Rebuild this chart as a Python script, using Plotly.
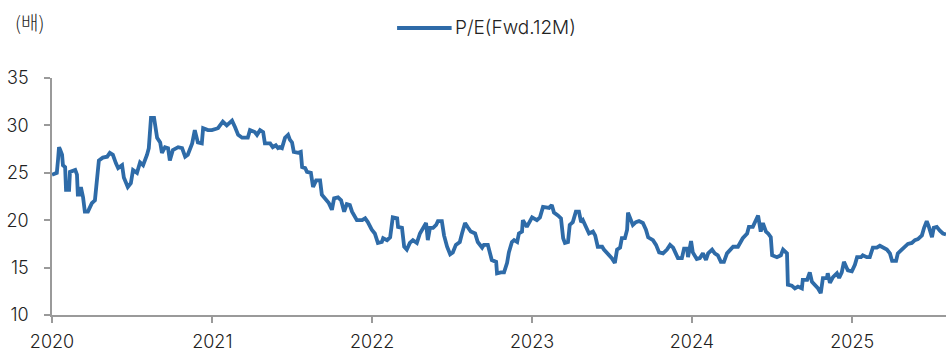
import pandas as pd
import plotly.graph_objects as go

# Forward 12M P/E, days counted from 2020-01-01
day_offset = [
    0, 7, 11, 14, 16, 18, 23, 25, 30, 32, 39, 41, 46, 53, 57, 59, 64, 66, 71, 75,
    82, 91, 98, 103, 107, 116, 126, 132, 139, 146, 151, 160, 164, 173, 180, 185,
    194, 201, 208, 217, 221, 226, 233, 240, 247, 251, 258, 265, 269, 276, 288,
    297, 304, 310, 320, 326, 333, 342, 345, 356, 365,
    379, 390, 399, 411, 418, 425, 434, 447, 452, 463, 468, 475, 482, 486, 498,
    504, 511, 516, 520, 525, 532, 539, 543, 548, 552, 562, 568, 571, 578, 582,
    591, 596, 603, 612, 616, 625, 632, 639, 644, 653, 660, 667, 673, 680, 685,
    696, 708, 715, 721,
    730, 737, 744, 753, 756, 765, 772, 778, 788, 790, 799, 804, 810, 817, 824,
    833, 840, 847, 854, 858, 863, 870, 877, 881, 890, 895, 902, 909, 915, 922,
    931, 936, 943, 950, 956, 966, 972, 982, 986, 995, 1000, 1004, 1014, 1016,
    1025, 1032, 1039, 1043, 1050, 1055, 1062, 1066, 1073, 1075, 1084, 1089, 1096,
    1107, 1114, 1121, 1130, 1135, 1141, 1146, 1155, 1162, 1167, 1171, 1178, 1182,
    1189, 1196, 1203, 1208, 1212, 1219, 1226, 1235, 1240, 1246, 1256, 1260, 1269,
    1278, 1285, 1290, 1297, 1301, 1308, 1313, 1315, 1322, 1326, 1333, 1340, 1349,
    1356, 1361, 1372, 1379, 1386, 1395, 1404, 1411, 1418, 1424, 1429, 1438, 1443,
    1450, 1452, 1459, 1463, 1472, 1479,
    1486, 1493, 1498, 1507, 1513, 1520, 1527, 1534, 1541, 1548, 1555, 1566, 1571,
    1577, 1587, 1591, 1600, 1605, 1612, 1618, 1623, 1630, 1635, 1641, 1644, 1655,
    1664, 1669, 1678, 1680, 1689, 1696, 1703, 1712, 1714, 1724, 1730, 1735, 1742,
    1749, 1755, 1760, 1769, 1771, 1776, 1783, 1792, 1797, 1803, 1808, 1817, 1826,
    1833, 1838, 1847, 1851, 1860, 1867, 1874, 1883, 1890, 1897, 1906, 1913, 1918,
    1927, 1931, 1940, 1947, 1954, 1963, 1970, 1977, 1986, 1991, 1997, 2002, 2009,
    2013, 2020, 2027, 2034, 2041,
]

pe_fwd12m = [
    24.8, 24.9, 25.0, 26.5, 27.7, 27.5, 26.9, 25.8, 25.6, 23.2, 23.2, 25.1, 25.2,
    25.3, 24.8, 22.7, 22.7, 23.5, 22.4, 20.9, 20.9, 21.8, 22.1, 24.8, 26.3, 26.6,
    26.7, 27.1, 26.9, 26.0, 25.5, 25.8, 24.5, 23.5, 23.9, 25.3, 25.0, 26.1, 25.8,
    26.9, 27.6, 30.8, 30.8, 28.7, 28.2, 27.1, 27.7, 27.6, 26.3, 27.4, 27.7, 27.6,
    26.7, 26.9, 28.1, 29.5, 28.2, 28.1, 29.7, 29.5, 29.5,
    29.7, 30.4, 30.0, 30.5, 29.8, 29.0, 28.7, 28.7, 29.5, 29.3, 29.0, 29.5, 29.3,
    28.1, 28.1, 27.7, 27.9, 27.6, 27.7, 27.6, 28.7, 29.0, 28.5, 28.2, 27.2, 27.1,
    27.2, 25.6, 25.5, 25.1, 25.0, 23.5, 24.2, 24.2, 22.7, 22.1, 21.8, 21.1, 22.3,
    22.4, 22.1, 20.9, 21.7, 21.6, 20.9, 20.0, 20.0, 20.2, 19.8,
    19.0, 18.6, 17.6, 17.7, 18.1, 17.9, 18.2, 20.3, 20.2, 19.3, 19.2, 17.2, 16.9,
    17.6, 17.9, 17.6, 18.6, 19.2, 19.7, 17.9, 19.2, 19.2, 19.5, 19.9, 19.9, 18.4,
    17.2, 16.4, 16.6, 17.4, 17.7, 18.6, 19.7, 19.2, 18.8, 18.6, 17.7, 17.1, 17.4,
    17.4, 16.3, 15.8, 15.6, 14.4, 14.5, 14.5, 15.5, 16.6, 17.7, 17.9, 17.7, 18.6,
    18.8, 20.0, 19.3, 19.7, 20.3,
    20.0, 20.3, 21.4, 21.4, 21.3, 21.6, 20.8, 20.5, 20.2, 18.1, 17.6, 17.7, 19.5,
    19.8, 20.9, 20.9, 19.8, 20.0, 19.2, 18.6, 18.8, 18.4, 17.2, 17.2, 16.9, 16.5,
    16.0, 15.5, 16.9, 17.1, 18.1, 18.1, 19.0, 20.8, 19.8, 19.5, 19.8, 19.9, 19.7,
    19.0, 18.2, 17.9, 17.4, 16.6, 16.5, 16.9, 17.4, 17.1, 16.5, 16.0, 16.0, 17.0,
    17.0, 16.1, 17.8, 16.6, 15.9, 16.0,
    16.5, 15.8, 16.5, 16.9, 16.5, 16.3, 15.6, 15.6, 16.5, 16.9, 17.2, 17.2, 17.7,
    18.1, 18.6, 19.3, 19.3, 19.8, 20.5, 18.8, 19.7, 18.8, 18.6, 18.2, 16.3, 16.1,
    16.3, 16.9, 16.5, 13.2, 13.1, 12.8, 13.0, 12.8, 13.7, 13.7, 14.5, 13.5, 13.2,
    12.8, 12.3, 13.9, 13.9, 14.4, 13.4, 14.0, 14.4, 13.9, 14.5, 15.6, 14.7, 14.6,
    15.3, 16.1, 16.1, 16.3, 16.1, 16.1, 17.1, 17.1, 17.3, 17.1, 16.9, 16.5, 15.7,
    15.7, 16.5, 16.9, 17.2, 17.5, 17.6, 17.9, 18.0, 18.4, 19.2, 19.9, 19.3, 18.2,
    19.2, 19.3, 18.9, 18.6, 18.5,
]

series_name = "P/E(Fwd.12M)"
unit_label = "(배)"
y_ticks = [10, 15, 20, 25, 30, 35]

dates = pd.Timestamp("2020-01-01") + pd.to_timedelta(day_offset, unit="D")

LINE_COLOR = "#2E6BA8"
AXIS_COLOR = "#9a9a9a"
TEXT_COLOR = "#222222"
FONT = "Inter"
KR_FONT = "Noto Sans CJK KR"

fig = go.Figure()
fig.add_trace(go.Scatter(
    x=dates, y=pe_fwd12m, mode="lines", name=series_name,
    line=dict(color=LINE_COLOR, width=3.8), showlegend=False,
))

# legend drawn as a short line plus label above the plot
fig.add_shape(type="line", xref="paper", yref="paper",
              x0=0.386, x1=0.447, y0=1.211, y1=1.211,
              line=dict(color=LINE_COLOR, width=4))
fig.add_annotation(text=series_name, xref="paper", yref="paper",
                   x=0.449, y=1.211, xanchor="left", yanchor="middle",
                   showarrow=False,
                   font=dict(size=19, color=TEXT_COLOR, family=FONT, weight=300))
fig.add_annotation(text=unit_label, xref="paper", yref="paper",
                   x=-0.044, y=1.24, xanchor="left", yanchor="middle",
                   showarrow=False,
                   font=dict(size=19, color=TEXT_COLOR, family=KR_FONT, weight=300))

fig.update_layout(
    width=948, height=355,
    margin=dict(l=52, r=2, t=78, b=40),
    paper_bgcolor="white", plot_bgcolor="white",
    font=dict(family=FONT, size=18, color=TEXT_COLOR, weight=300),
    xaxis=dict(
        range=[dates[0], dates[-1]], type="date",
        tickformat="%Y", dtick="M12", tick0="2020-01-01",
        showline=True, linecolor=AXIS_COLOR, linewidth=1.5,
        ticks="outside", ticklen=6, tickcolor=AXIS_COLOR, tickwidth=1.5,
        showgrid=False, zeroline=False, ticklabelstandoff=4,
    ),
    yaxis=dict(
        range=[10, 35], tickvals=y_ticks,
        showline=True, linecolor=AXIS_COLOR, linewidth=1.5,
        ticks="outside", ticklen=6, tickcolor=AXIS_COLOR, tickwidth=1.5,
        showgrid=False, zeroline=False, ticklabelstandoff=12,
    ),
)

fig.write_html("out.html")
